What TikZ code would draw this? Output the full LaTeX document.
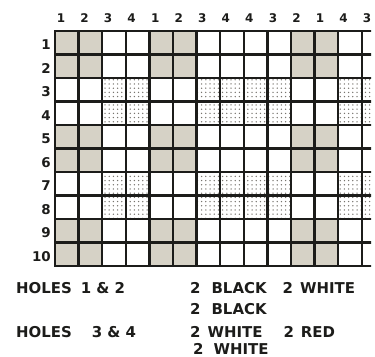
\documentclass[tikz,border=0pt]{standalone}
\usepackage{fontspec}
\setmainfont{DejaVu Sans}
\usetikzlibrary{patterns.meta}
\definecolor{ink}{HTML}{1C1C1A}
\definecolor{blackyarn}{HTML}{D6D2C6}
\definecolor{dotgray}{HTML}{77746E}
\tikzset{
  blackcell/.style={fill=blackyarn},
  redcell/.style={pattern={Dots[distance=4.2bp, radius=0.75bp]}, pattern color=dotgray},
  gridline/.style={draw=ink, line width=2.5bp, line cap=rect},
  colnum/.style={font=\bfseries\fontsize{12}{12}\selectfont, text=ink,
    inner sep=0pt, anchor=base},
  rownum/.style={font=\bfseries\fontsize{13.5}{13.5}\selectfont, text=ink,
    inner sep=0pt, anchor=base east},
  legend/.style={font=\bfseries\fontsize{15}{15}\selectfont, text=ink,
    inner sep=0pt, anchor=base west},
}

\begin{document}
\begin{tikzpicture}[x=1bp, y=-1bp]
  \useasboundingbox (0,0) rectangle (375,357);
  \begin{scope}
    \clip (0,0) rectangle (371,357);
    % black yarn: holes 1 & 2
    \foreach \c in {1,2,5,6,11,12}
      \foreach \r in {1,2,5,6,9,10}
        \fill[blackcell] ({55+(\c-1)*23.6},{31+(\r-1)*23.5}) rectangle +(23.6,23.5);
    % red yarn: holes 3 & 4
    \foreach \c in {3,4,7,8,9,10,13,14}
      \foreach \r in {3,4,7,8}
        \path[redcell] ({55+(\c-1)*23.6},{31+(\r-1)*23.5}) rectangle +(23.6,23.5);
    \foreach \c in {0,...,13}
      \draw[gridline] ({55+\c*23.6},31) -- ({55+\c*23.6},266);
    \foreach \r in {0,...,10}
      \draw[gridline] (55,{31+\r*23.5}) -- (373,{31+\r*23.5});
  \end{scope}
  \foreach \h [count=\c] in {1,2,3,4,1,2,3,4,4,3,2,1,4,3}
    \node[colnum] (col\c) at ({61+(\c-1)*23.55},22) {\h};
  \foreach \r in {1,...,10}
    \node[rownum] (row\r) at (51,{31+(\r-0.5)*23.5+7}) {\r};
  \node[legend] (holesA) at (16,293) {HOLES\hspace{9bp}1 \& 2};
  \node[legend] (threadA) at (190,293) {2\hspace{11bp}BLACK\hspace{16bp}2\hspace{7bp}WHITE};
  \node[legend] (threadB) at (190,314) {2\hspace{11bp}BLACK};
  \node[legend] (holesB) at (16,337) {HOLES\hspace{20bp}3 \& 4};
  \node[legend] (threadC) at (190,337) {2\hspace{7bp}WHITE\hspace{21bp}2\hspace{7bp}RED};
  \node[legend] (threadD) at (193,354) {2\hspace{10bp}WHITE};
\end{tikzpicture}
\end{document}
